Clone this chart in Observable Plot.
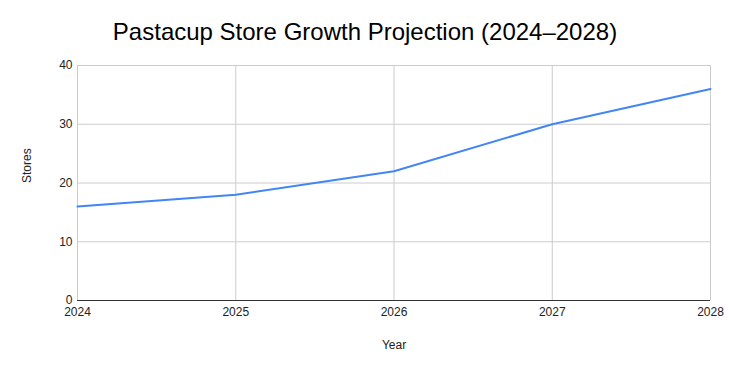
<!DOCTYPE html>
<html><head><meta charset="utf-8">
<script src="https://cdn.jsdelivr.net/npm/d3@7"></script>
<script src="https://cdn.jsdelivr.net/npm/@observablehq/plot@0.6"></script>
<style>body{margin:0;background:#fff;} svg{display:block;}</style>
</head><body><div id="chart"></div>
<script>
const years = [2024, 2025, 2026, 2027, 2028];
const stores = [16, 18, 22, 30, 36];
const yTicks = [0, 10, 20, 30, 40];
const titleText = "Pastacup Store Growth Projection (2024\u20132028)";
const xLabel = "Year";
const yLabel = "Stores";

const data = years.map((y, i) => ({year: y, stores: stores[i]}));

const chart = Plot.plot({
  width: 729, height: 371,
  marginLeft: 77, marginRight: 19, marginTop: 65, marginBottom: 71,
  style: {fontFamily: "'Liberation Sans', Arial, sans-serif", fontSize: "12px", color: "#222", background: "#fff"},
  x: {domain: [2024, 2028], ticks: years, tickFormat: "d", label: null},
  y: {domain: [0, 40], ticks: yTicks, label: null},
  marks: [
    Plot.gridY(yTicks, {stroke: "#cccccc", strokeOpacity: 1}),
    Plot.gridX(years, {stroke: "#cccccc", strokeOpacity: 1}),
    Plot.axisX({ticks: years, tickFormat: "d", tickSize: 0, tickPadding: 7, fontSize: 12, fill: "#222"}),
    Plot.axisY({ticks: yTicks, tickSize: 0, tickPadding: 5, fontSize: 12, fill: "#222"}),
    Plot.ruleY([0], {stroke: "#333", strokeWidth: 1}),
    Plot.line(data, {x: "year", y: "stores", stroke: "#4285F4", strokeWidth: 2}),
    Plot.text([titleText], {frameAnchor: "top", dy: -32, dx: -29, fontSize: 24, fill: "#000", text: d => d}),
    Plot.text([xLabel], {frameAnchor: "bottom", dy: 45, fontSize: 12, fill: "#222", text: d => d}),
    Plot.text([yLabel], {frameAnchor: "left", dx: -50, rotate: -90, fontSize: 12, fill: "#222", text: d => d})
  ]
});
// adjust title and axis-label offsets
const texts = chart.querySelectorAll("text");
texts.forEach(t => {
  if (t.textContent === titleText) t.setAttribute("transform", (t.getAttribute("transform") || "") + " translate(0,-11)");
  if (t.textContent === xLabel) t.setAttribute("transform", (t.getAttribute("transform") || "") + " translate(0,3)");
});
document.getElementById("chart").appendChild(chart);
</script>
</body></html>
